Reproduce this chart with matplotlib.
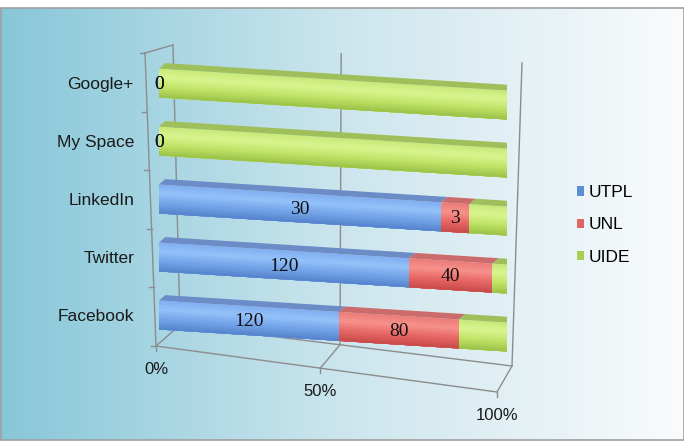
import numpy as np
import matplotlib.pyplot as plt
from matplotlib.patches import Rectangle, Polygon, Patch
from matplotlib.transforms import Affine2D

# data (bottom to top)
categories = ['Facebook', 'Twitter', 'LinkedIn', 'My Space', 'Google+']
utpl = [120, 120, 30, 0, 0]
unl = [80, 40, 3, 0, 0]
uide = [32, 7, 4, 15, 10]
series_names = ['UTPL', 'UNL', 'UIDE']
x_ticks = [0, 0.5, 1.0]
x_tick_labels = ['0%', '50%', '100%']

plt.rcParams['font.family'] = ['Liberation Sans', 'DejaVu Sans']

# colours: top face + vertical gradient stops of the front face (bottom -> top)
palette = {
    'UTPL': dict(top=(0.42, 0.55, 0.78), grad=[(0.33, 0.51, 0.80), (0.45, 0.64, 0.91),
                                                (0.58, 0.76, 0.98), (0.50, 0.68, 0.94)]),
    'UNL': dict(top=(0.80, 0.42, 0.42), grad=[(0.78, 0.29, 0.29), (0.90, 0.40, 0.39),
                                              (0.97, 0.57, 0.55), (0.92, 0.48, 0.46)]),
    'UIDE': dict(top=(0.62, 0.75, 0.35), grad=[(0.60, 0.76, 0.28), (0.75, 0.89, 0.40),
                                               (0.85, 0.96, 0.56), (0.78, 0.91, 0.47)]),
}
legend_colors = {'UTPL': '#5b8fd8', 'UNL': '#e06666', 'UIDE': '#a9cf52'}
grey = '#8c8c8c'

fig = plt.figure(figsize=(6.84, 4.42), dpi=100)

# background with gradient and frame (pixel coordinates)
bg = fig.add_axes([0, 0, 1, 1])
bg.set_xlim(0, 684)
bg.set_ylim(442, 0)
bg.axis('off')
c_left = np.array([0.53, 0.78, 0.85])
c_mid = np.array([0.80, 0.90, 0.93])
c_right = np.array([0.98, 0.985, 0.99])
xs = np.linspace(0, 1, 300)
grad = np.where(xs[:, None] < 0.5,
                c_left + (c_mid - c_left) * (xs[:, None] / 0.5),
                c_mid + (c_right - c_mid) * ((xs[:, None] - 0.5) / 0.5))
bg.imshow(grad[None, :, :], extent=(0, 684, 440, 8), aspect='auto', zorder=0)
bg.add_patch(Rectangle((0.5, 8), 683, 432, fill=False, ec='#a0a0a0', lw=1.2, zorder=1))


def persp(v, a=-0.07):
    return v * (1 + a) / (1 + a * v)


# wireframe of the 3D box
lw = 1.0
front_left_top, front_left_bot = (145, 53), (156, 346)
back_left_top, back_left_bot = (173, 45), (180, 325)
front_right_bot, back_right_bot = (497, 392), (512, 366)
back_right_top = (522, 63)
bg.plot([front_left_top[0], front_left_bot[0]], [front_left_top[1], front_left_bot[1]], color=grey, lw=lw)
bg.plot([front_left_top[0], back_left_top[0]], [front_left_top[1], back_left_top[1]], color=grey, lw=lw)
for k in range(6):
    f = k / 5
    ex = front_left_top[0] + (front_left_bot[0] - front_left_top[0]) * f
    ey = front_left_top[1] + (front_left_bot[1] - front_left_top[1]) * f
    bg.plot([ex - 5, ex], [ey, ey], color=grey, lw=lw)
bg.plot([front_left_bot[0], front_right_bot[0]], [front_left_bot[1], front_right_bot[1]], color=grey, lw=lw)
bg.plot([back_left_bot[0], back_right_bot[0]], [back_left_bot[1], back_right_bot[1]], color=grey, lw=lw)
for v, lab in zip(x_ticks, x_tick_labels):
    p = persp(v)
    fx = front_left_bot[0] + (front_right_bot[0] - front_left_bot[0]) * p
    fy = front_left_bot[1] + (front_right_bot[1] - front_left_bot[1]) * p
    bx = back_left_bot[0] + (back_right_bot[0] - back_left_bot[0]) * p
    by = back_left_bot[1] + (back_right_bot[1] - back_left_bot[1]) * p
    tx = back_left_top[0] + (back_right_top[0] - back_left_top[0]) * p
    ty = back_left_top[1] + (back_right_top[1] - back_left_top[1]) * p
    bg.plot([fx, bx], [fy, by], color=grey, lw=lw)
    bg.plot([bx, tx], [by, ty], color=grey, lw=lw)
    bg.plot([fx, fx], [fy, fy + 5], color=grey, lw=lw)
    bg.text(fx, fy + 23, lab, ha='center', va='center', fontsize=12, color='#1a1a1a')

# main bar axes
ax = fig.add_axes([159 / 684, 1 - 430 / 442, 348 / 684, 400 / 442])
ax.set_facecolor('none')
for s in ax.spines.values():
    s.set_visible(False)
ax.set_xticks([])
ax.set_yticks(range(len(categories)), categories, fontsize=12.5, color='#1a1a1a')
ax.tick_params(axis='y', length=0, pad=18)

shear = Affine2D(np.array([[1, 0, 0], [-0.38, 1, 0], [0, 0, 1]])) + ax.transData

totals = np.array(utpl) + np.array(unl) + np.array(uide)
values = {'UTPL': np.array(utpl), 'UNL': np.array(unl), 'UIDE': np.array(uide)}
h, dy, dx = 0.5, 0.1, 0.018
ypos = np.arange(len(categories))
n_bands = 14
band_pos = np.linspace(0, 1, n_bands + 1)
left = np.zeros(len(categories))
for name in series_names:
    frac = values[name] / totals
    stops = np.array(palette[name]['grad'])
    stop_pos = np.array([0.0, 0.35, 0.7, 1.0])
    # front face: nested bars from the bottom edge, tallest first, to fake a vertical gradient
    for b in range(n_bands - 1, -1, -1):
        mid = (band_pos[b] + band_pos[b + 1]) / 2
        col = [np.interp(mid, stop_pos, stops[:, c]) for c in range(3)]
        top_f = band_pos[b + 1]
        ax.barh(ypos - h / 2 + h * top_f / 2, frac, left=left, height=h * top_f,
                color=col, lw=0, transform=shear, zorder=3)
    for i in range(len(categories)):
        l, w = left[i], frac[i]
        if w <= 0:
            continue
        yt = ypos[i] + h / 2
        ax.add_patch(Polygon([(l, yt), (l + w, yt), (l + w + dx, yt + dy), (l + dx, yt + dy)],
                             closed=True, fc=palette[name]['top'], ec='none',
                             transform=shear, zorder=3))
        if np.isclose(l + w, 1.0):
            ax.add_patch(Polygon([(1.0, yt - h), (1.0, yt), (1.0 + dx, yt + dy), (1.0 + dx, yt - h + dy)],
                                 closed=True, fc=palette[name]['top'], ec='none',
                                 transform=shear, zorder=3))
    if name != 'UIDE':
        for i in range(len(categories)):
            ax.text(left[i] + frac[i] / 2, ypos[i] - 0.02, str(values[name][i]), transform=shear,
                    ha='center', va='center', fontsize=14, family='Liberation Serif',
                    color='#111111', zorder=5)
    left = left + frac

ax.set_xlim(0, 1)
ax.set_ylim(-(430 - 315) / 58, (315 - 30) / 58)

handles = [Patch(fc=legend_colors[n], ec='none') for n in series_names]
fig.legend(handles, series_names, loc='center left', bbox_to_anchor=(561 / 684, 1 - 225 / 442),
           frameon=False, fontsize=12.5, handlelength=0.45, handleheight=0.45,
           handletextpad=0.25, labelspacing=1.0)

fig.savefig('out.png', dpi=100)
